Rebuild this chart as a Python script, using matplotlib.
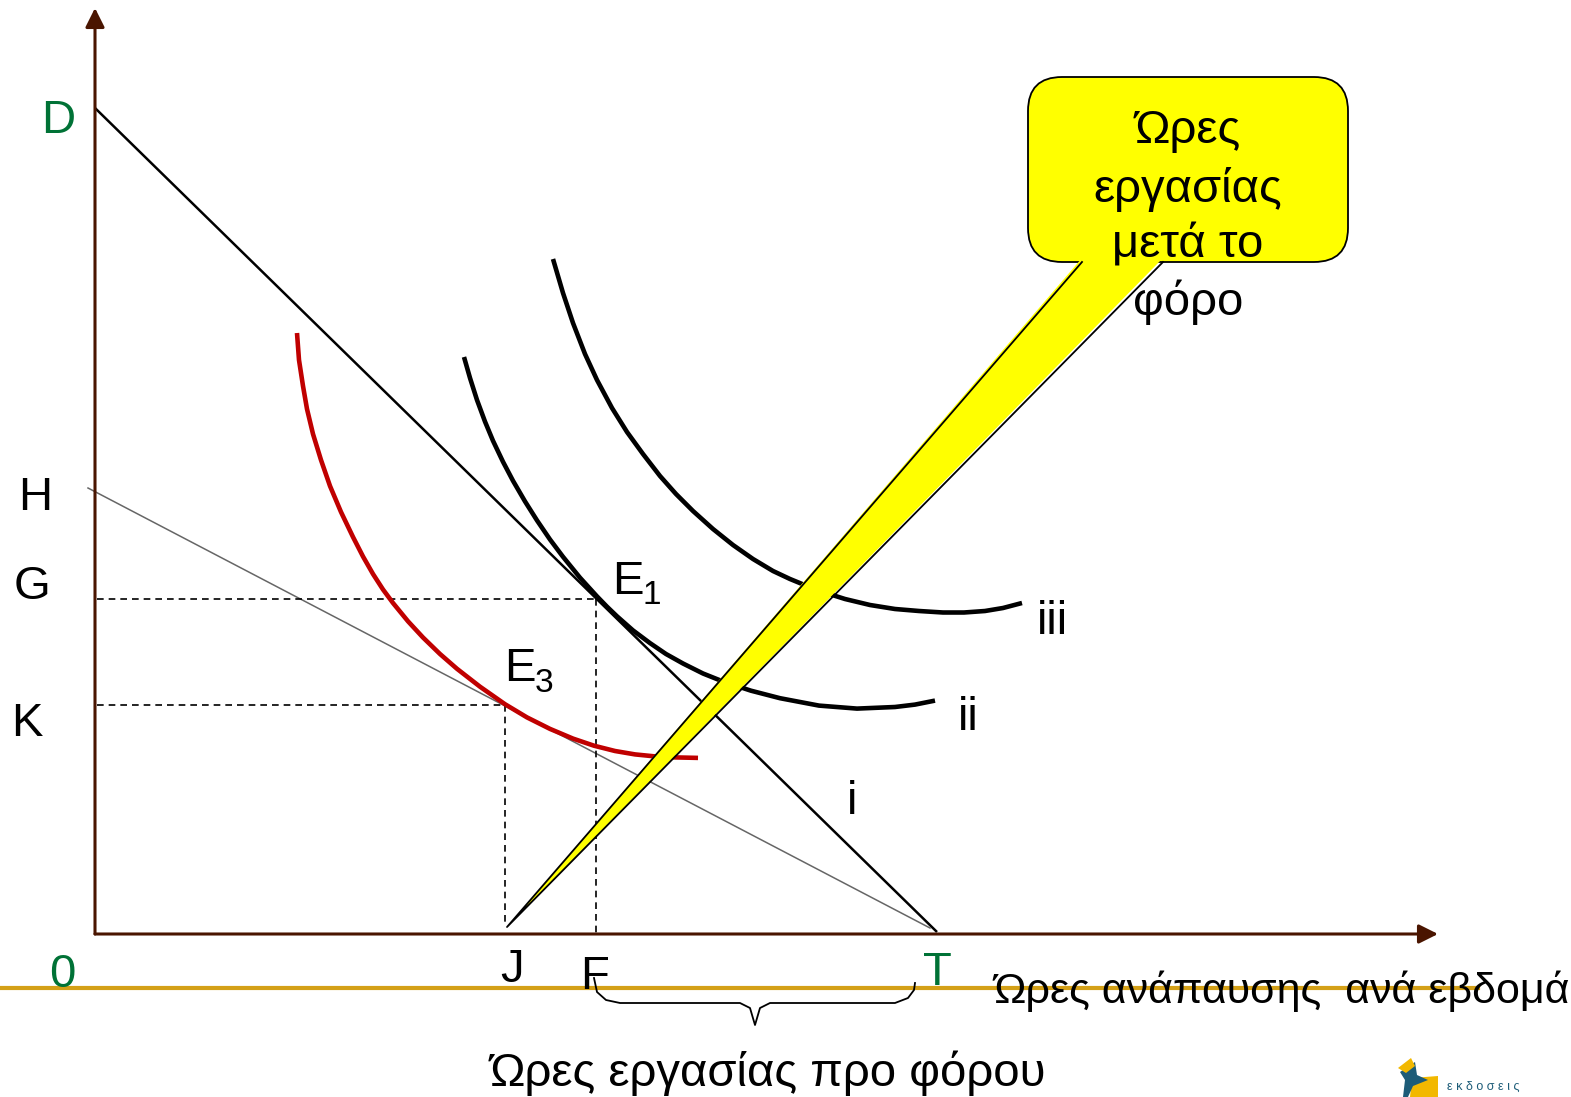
import matplotlib
matplotlib.use("Agg")
import matplotlib.pyplot as plt
from matplotlib.patches import FancyBboxPatch, Polygon

plt.rcParams["font.family"] = ["Liberation Sans", "DejaVu Sans"]

# chart units: origin at the axes corner, x to the right, y upwards
AXIS_TOP = (0, 926)
AXIS_RIGHT = (1343, 0)

budget_before = ([0, 842], [826, 2])      # D -> T
budget_after = ([-7, 835], [446, 6])      # H -> T

g_level, f_hours = 335, 501               # E1
k_level, j_hours = 229, 410               # E3

curve_red_x = [202, 204, 208, 212, 218, 226, 235, 246, 258, 268, 278, 288, 298, 313, 328,
               345, 362, 385, 410, 432, 455, 478, 499, 520, 540, 560, 580, 603]
curve_red_y = [601, 574, 548, 525, 500, 474, 448, 422, 397, 377.5, 360, 344.5, 331, 312.7, 296.5,
               280, 265.2, 247.3, 229.8, 216.6, 205.1, 195.4, 188.3, 183, 179.6, 177.6, 176.6, 176.1]

curve_ii_x = [369, 375, 382, 390, 398, 408, 418, 430, 442, 455, 468, 485, 502, 512, 522,
              538, 555, 571, 588, 608, 628, 656, 685, 724, 762, 800, 820, 840]
curve_ii_y = [577, 556, 534, 512.4, 493.2, 472.2, 453.2, 432.6, 413.6, 394.5, 377.2, 356.3, 337.6,
              327.3, 317.7, 303.6, 290.9, 280, 270.5, 260.5, 252.5, 243.3, 235.8, 228.4, 225.4,
              227, 229.4, 233.4]

curve_iii_x = [458, 468, 478, 490, 502, 517, 532, 548, 565, 581, 598, 618, 638, 658, 678,
               695, 712, 731, 750, 775, 800, 824, 848, 869, 890, 908, 927]
curve_iii_y = [675, 641, 611, 580, 554, 526, 502, 480, 458, 440, 423, 405, 389, 375, 363,
               355, 348, 341, 335, 329, 325, 323, 321.5, 321.5, 323, 326, 331]

brace_x = [499, 502, 511, 525, 645, 655, 660, 665, 675, 800, 813, 819, 820]
brace_y = [-44, -58, -66, -69, -69, -74, -91, -74, -69, -69, -64, -56, -49]

callout_box = (933, 672, 320, 185)        # x, y, width, height
callout_tail = [(987, 676), (412, 7), (1068, 676)]
callout_lines = ["Ώρες", "εργασίας", "μετά το", "φόρο"]
callout_line_y = [803, 745, 689, 632]

axis_labels = [
    ("D", -37, 813, "#007236"), ("H", -60, 436, "black"), ("G", -63, 347, "black"),
    ("K", -68, 210, "black"), ("0", -33, -41, "#007236"), ("J", 417, -36, "black"),
    ("F", 500, -43, "black"), ("T", 842, -39, "#007236"),
    ("iii", 957, 312, "black"), ("ii", 873, 216, "black"), ("i", 757, 132, "black"),
]
point_labels = [("E", "1", 533, 352), ("E", "3", 425, 265)]

AXIS_COLOR = "#4a1500"
GOLD = "#d4a017"

fig = plt.figure(figsize=(15.71, 10.97), dpi=100)
ax = fig.add_axes([0, 0, 1, 1])
ax.set_xlim(-95, 1476)
ax.set_ylim(-163, 934)
ax.axis("off")

# axes with arrow heads
for tip in (AXIS_TOP, AXIS_RIGHT):
    ax.annotate("", xy=tip, xytext=(0, 0),
                arrowprops=dict(arrowstyle="-|>", color=AXIS_COLOR, lw=2.2,
                                mutation_scale=29, shrinkA=0, shrinkB=0))

ax.plot(*budget_before, color="black", lw=1.8, solid_capstyle="butt")
ax.plot(*budget_after, color="#666666", lw=1.1)

dash = dict(color="black", lw=1.2, linestyle=(0, (4, 3)))
ax.plot([2, f_hours], [g_level, g_level], **dash)
ax.plot([f_hours, f_hours], [g_level, -3], **dash)
ax.plot([2, j_hours], [k_level, k_level], **dash)
ax.plot([j_hours, j_hours], [k_level, 9], **dash)

curve_style = dict(lw=3.3, solid_capstyle="butt", solid_joinstyle="round")
ax.plot(curve_red_x, curve_red_y, color="#c00000", **curve_style)
ax.plot(curve_ii_x, curve_ii_y, color="black", **curve_style)
ax.plot(curve_iii_x, curve_iii_y, color="black", **curve_style)

# callout
bx, by, bw, bh = callout_box
ax.add_patch(FancyBboxPatch((bx, by), bw, bh, boxstyle="round,pad=0,rounding_size=34",
                            facecolor="#ffff00", edgecolor="black", lw=1.3, zorder=5))
ax.add_patch(Polygon(callout_tail, closed=True, facecolor="#ffff00", edgecolor="none", zorder=6))
ax.plot([callout_tail[0][0], callout_tail[1][0], callout_tail[2][0]],
        [callout_tail[0][1] - 4, callout_tail[1][1], callout_tail[2][1] - 4],
        color="black", lw=1.3, zorder=7)
for line, ly in zip(callout_lines, callout_line_y):
    ax.text(bx + bw / 2, ly, line, ha="center", va="center", fontsize=34, zorder=8)

for txt, x, y, c in axis_labels:
    ax.text(x, y, txt, ha="center", va="center", fontsize=34, color=c)
for main, sub, x, y in point_labels:
    ax.text(x, y, main, ha="center", va="center", fontsize=34)
    ax.text(x + 24, y - 14, sub, ha="center", va="center", fontsize=24)

# gold rule and bottom texts
ax.plot([-95, 1383], [-54, -54], color=GOLD, lw=3)
ax.text(898, -57, "Ώρες ανάπαυσης  ανά εβδομάδα", ha="left", va="center", fontsize=31)
ax.plot(brace_x, brace_y, color="black", lw=1.3)
ax.text(673, -139, "Ώρες εργασίας προ φόρου", ha="center", va="center", fontsize=34)

# publisher logo (bottom right corner)
ax.add_patch(Polygon([(1317, -144), (1343, -142), (1343, -163), (1315, -163)],
                     closed=True, facecolor="#f2b800", edgecolor="none"))
ax.add_patch(Polygon([(1305, -138), (1320, -128), (1322, -141), (1333, -146),
                      (1318, -152), (1313, -163), (1308, -163), (1310, -146)],
                     closed=True, facecolor="#1d5c78", edgecolor="none"))
ax.add_patch(Polygon([(1303, -134), (1316, -124), (1320, -132), (1311, -139)],
                     closed=True, facecolor="#f2b800", edgecolor="none"))
ax.text(1352, -153, "ε κ δ ο σ ε ι ς", ha="left", va="center", fontsize=9, color="#1d5c78")

fig.savefig("out.png", dpi=100)
